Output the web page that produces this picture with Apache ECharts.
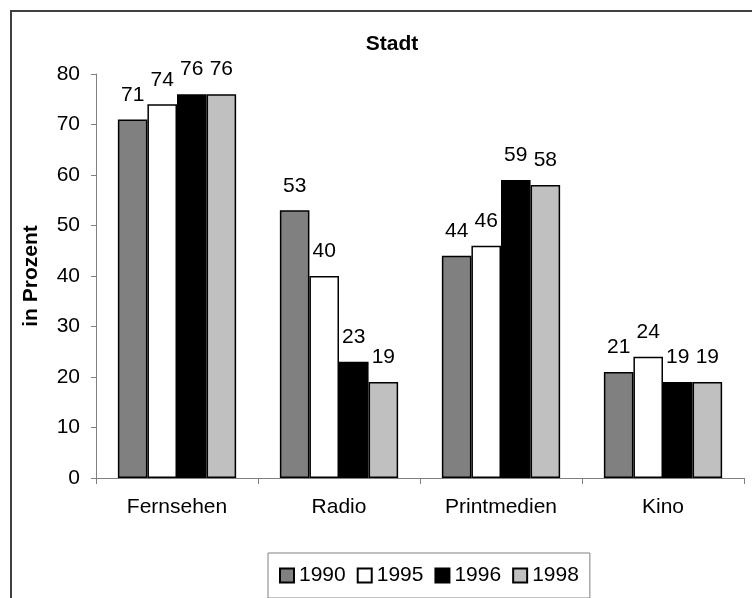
<!DOCTYPE html>
<html>
<head>
<meta charset="utf-8">
<script src="https://cdn.jsdelivr.net/npm/echarts@6/dist/echarts.min.js"></script>
<style>html,body{margin:0;padding:0;background:#fff;}#c{width:752px;height:598px;}</style>
</head>
<body>
<div id="c"></div>
<script>
const categories = ['Fernsehen', 'Radio', 'Printmedien', 'Kino'];
const years = ['1990', '1995', '1996', '1998'];
const v1990 = [71, 53, 44, 21];
const v1995 = [74, 40, 46, 24];
const v1996 = [76, 23, 59, 19];
const v1998 = [76, 19, 58, 19];
const colors = ['#808080', '#ffffff', '#000000', '#c0c0c0'];
const seriesValues = [v1990, v1995, v1996, v1998];

const FONT = '"Liberation Sans", Arial, sans-serif';
const chart = echarts.init(document.getElementById('c'));
chart.setOption({
  animation: false,
  backgroundColor: '#fff',
  textStyle: { fontFamily: FONT },
  title: {
    text: 'Stadt', left: 387, top: 29, textAlign: 'center',
    textStyle: { fontFamily: FONT, fontWeight: 'bold', fontSize: 21, color: '#000' }
  },
  graphic: [{
    type: 'rect', silent: true, z: -1,
    shape: { x: 11, y: 11, width: 1000, height: 1000 },
    style: { fill: null, stroke: '#404040', lineWidth: 2 }
  }],
  legend: {
    left: 268, top: 553, orient: 'horizontal',
    padding: [12, 11], itemGap: 11, itemWidth: 14, itemHeight: 14,
    borderColor: '#808080', borderWidth: 1,
    icon: 'rect',
    textStyle: { fontFamily: FONT, fontSize: 21, color: '#000' },
    data: years
  },
  grid: { left: 96, right: 8, top: 74, bottom: 120, containLabel: false },
  xAxis: {
    type: 'category', data: categories,
    axisLine: { lineStyle: { color: '#808080', width: 1 } },
    axisTick: { show: true, length: 6, lineStyle: { color: '#808080' } },
    axisLabel: { fontFamily: FONT, fontSize: 21, color: '#000', margin: 19 }
  },
  yAxis: {
    type: 'value', min: 0, max: 80, interval: 10,
    name: 'in Prozent', nameLocation: 'middle', nameGap: 54, nameRotate: 90,
    nameTextStyle: { fontFamily: FONT, fontWeight: 'bold', fontSize: 21, color: '#000' },
    axisLine: { show: true, lineStyle: { color: '#808080', width: 1 } },
    axisTick: { show: true, length: 5, lineStyle: { color: '#808080' } },
    axisLabel: { fontFamily: FONT, fontSize: 21, color: '#000', margin: 16 },
    splitLine: { show: false }
  },
  series: years.map((y, i) => ({
    name: y, type: 'bar', data: seriesValues[i],
    barGap: '0%', barCategoryGap: '27%',
    itemStyle: { color: colors[i], borderColor: '#000', borderWidth: 1.5 },
    label: { show: true, position: 'top', distance: 14, fontFamily: FONT, fontSize: 21, color: '#000' }
  }))
});
</script>
</body>
</html>
